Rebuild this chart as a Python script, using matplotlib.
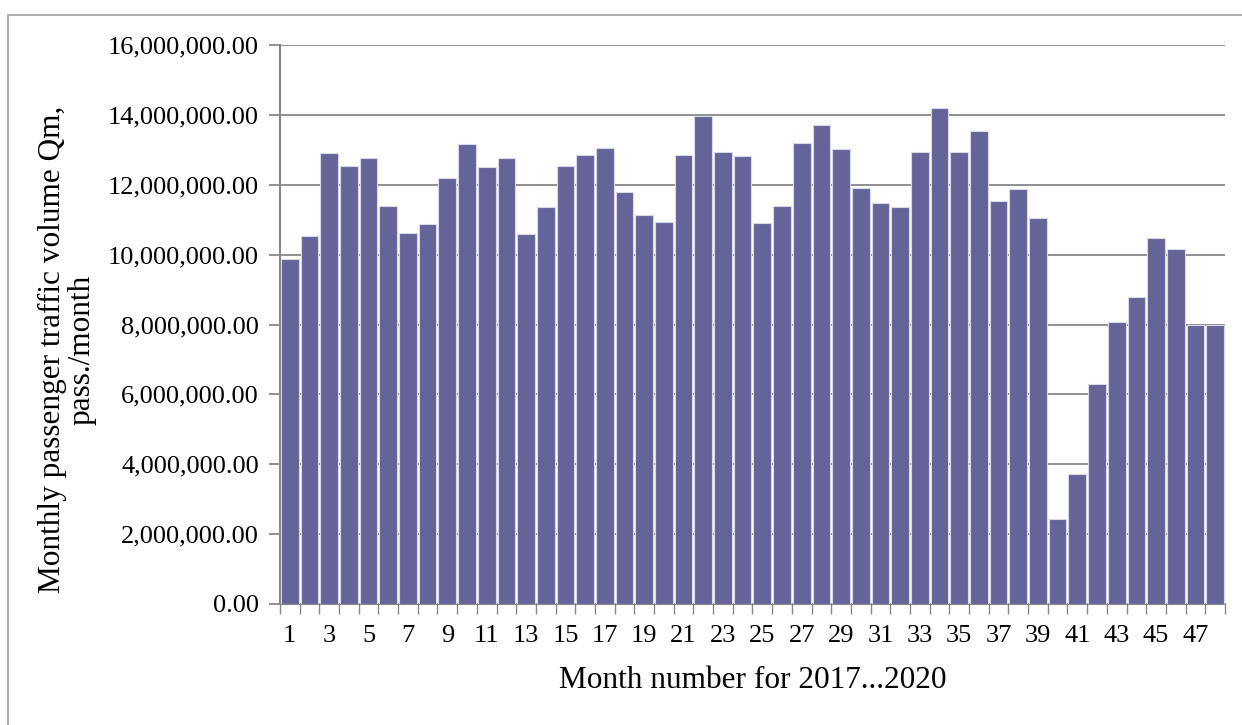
import numpy as np
import matplotlib.pyplot as plt
from matplotlib.ticker import FuncFormatter, FixedLocator
from matplotlib.patches import Rectangle

plt.rcParams['font.family'] = ['Liberation Serif', 'DejaVu Serif']

months = np.arange(1, 49)
traffic = [9.88, 10.52, 12.92, 12.54, 12.76, 11.40, 10.63, 10.89, 12.19, 13.18,
           12.51, 12.76, 10.59, 11.36, 12.55, 12.85, 13.06, 11.80, 11.14, 10.92,
           12.85, 13.97, 12.94, 12.83, 10.90, 11.40, 13.20, 13.70, 13.03, 11.90,
           11.47, 11.36, 12.95, 14.20, 12.95, 13.53, 11.54, 11.87, 11.06, 2.42,
           3.73, 6.29, 8.06, 8.78, 10.49, 10.15, 8.00, 8.00]
traffic = np.array(traffic) * 1e6
tick_labels = [str(m) for m in months[::2]]

fig = plt.figure(figsize=(12.42, 7.25), dpi=100)
ax = fig.add_axes([0.2254, 0.1669, 0.7609, 0.771])

# outer chart border
fig.patches.append(Rectangle((8 / 1242, -0.01), 1.2, 1 - 15 / 725 + 0.01,
                             transform=fig.transFigure, fill=False,
                             edgecolor='#a0a0a0', linewidth=1.2))

ax.bar(months, traffic, width=0.9, color='#646499', edgecolor='#d8d8ea',
       linewidth=0.8, zorder=3)

ax.set_xlim(0.5, 48.5)
ax.set_ylim(0, 16e6)
ax.set_yticks(np.arange(0, 16e6 + 1, 2e6))
ax.yaxis.set_major_formatter(FuncFormatter(lambda v, p: f"{v:,.2f}"))
ax.grid(axis='y', color='#878787', linewidth=1.3, zorder=0)

# ticks between bars, labels on odd months
ax.xaxis.set_major_locator(FixedLocator(np.arange(0.5, 49, 1)))
ax.xaxis.set_major_formatter(FuncFormatter(lambda v, p: ''))
ax.xaxis.set_minor_locator(FixedLocator(months[::2]))
ax.set_xticklabels(tick_labels, minor=True)
ax.tick_params(axis='x', which='major', direction='out', length=7,
               color='#878787', width=1)
ax.tick_params(axis='x', which='minor', length=0, pad=15, labelsize=19)
ax.tick_params(axis='y', direction='out', length=8, color='#878787',
               width=1.3, labelsize=19, pad=7)

for s in ['top', 'right']:
    ax.spines[s].set_visible(False)
for s in ['left', 'bottom']:
    ax.spines[s].set_color('#878787')
    ax.spines[s].set_linewidth(1.5)

ax.set_xlabel("Month number for 2017...2020", fontsize=22.5, labelpad=14)
ax.set_ylabel("Monthly passenger traffic volume Qm,\npass./month",
              fontsize=22.5, linespacing=1.05)
ax.yaxis.set_label_coords(-0.194, 0.455)

fig.savefig("out.png", dpi=100)
